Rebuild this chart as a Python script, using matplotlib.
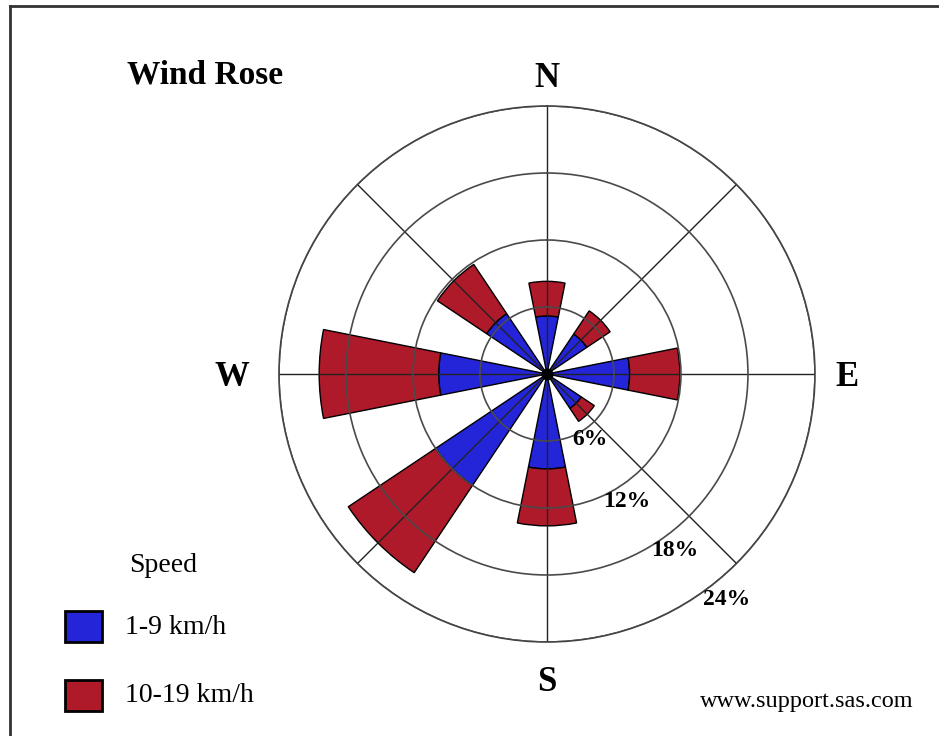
import numpy as np
import matplotlib.pyplot as plt
from matplotlib.patches import Rectangle

plt.rcParams['font.family'] = ['Liberation Serif', 'DejaVu Serif']

# wind directions (compass degrees) and percentage of time per speed class
directions = ["N", "NE", "E", "SE", "S", "SW", "W", "NW"]
angles_deg = [0, 45, 90, 135, 180, 225, 270, 315]
slow_pct = [5.2, 4.3, 7.4, 3.7, 8.5, 12.0, 9.7, 6.5]      # 1-9 km/h
fast_pct = [3.1, 2.5, 4.5, 1.4, 5.1, 9.4, 10.7, 5.3]      # 10-19 km/h
ring_levels = [6, 12, 18, 24]
ring_labels = ["6%", "12%", "18%", "24%"]
speed_labels = ["1-9 km/h", "10-19 km/h"]

blue = "#2424d8"
red = "#ae1a2a"

fig = plt.figure(figsize=(9.39, 7.36), dpi=100)
ax = fig.add_axes([0.2971, 0.1277, 0.5708, 0.7283], projection="polar")
ax.set_theta_zero_location("N")
ax.set_theta_direction(-1)

theta = np.radians(angles_deg)
width = np.radians(22.5)
ax.bar(theta, slow_pct, width=width, bottom=0, color=blue,
       edgecolor="black", linewidth=1.0, zorder=1)
ax.bar(theta, fast_pct, width=width, bottom=slow_pct, color=red,
       edgecolor="black", linewidth=1.0, zorder=1)
ax.scatter([0], [0], s=60, color="black", zorder=3)

ax.set_rlim(0, 24)
ax.set_xticks(theta)
ax.set_yticks(ring_levels)
ax.set_xticklabels([])
ax.set_yticklabels([])
ax.tick_params(length=0)
ax.xaxis.grid(True, color="#222222", linewidth=1.0)
ax.yaxis.grid(True, color="#4a4a4a", linewidth=1.2)
ax.spines["polar"].set_color("#404040")
ax.spines["polar"].set_linewidth(1.2)
ax.set_axisbelow(False)

# ring labels along the SE spoke
label_pos = [(147, 7.0), (148, 13.5), (144, 19.5), (141.5, 25.8)]
for lab, (a, r) in zip(ring_labels, label_pos):
    ax.text(np.radians(a), r, lab, ha="center", va="center", fontsize=17,
            fontweight="bold", clip_on=False)

# compass letters
compass = [("N", 0, 26.8), ("E", 90, 26.9), ("S", 180, 27.3), ("W", 270, 28.2)]
for lab, a, r in compass:
    ax.text(np.radians(a), r, lab, ha="center", va="center_baseline",
            fontsize=25, fontweight="bold", clip_on=False)

W, H = 939, 736
fig.text(127 / W, 1 - 71 / H, "Wind Rose", ha="left", va="center_baseline",
         fontsize=24, fontweight="bold")
fig.text(163 / W, 1 - 566 / H, "Speed", ha="center", va="center", fontsize=20)

legend_rows = [(blue, 626), (red, 695)]
for (col, yc), lab in zip(legend_rows, speed_labels):
    fig.add_artist(Rectangle((65 / W, 1 - (yc + 16) / H), 37 / W, 31 / H,
                             facecolor=col, edgecolor="black", linewidth=2,
                             transform=fig.transFigure))
    fig.text(125 / W, 1 - (yc + 1) / H, lab, ha="left", va="center",
             fontsize=20)

fig.text(914 / W, 1 - 701 / H, "www.support.sas.com", ha="right",
         va="center", fontsize=17.5)

# frame (top and left edges visible)
fig.add_artist(plt.Line2D([10 / W, 10 / W], [0, 1 - 6 / H], color="#333333",
                          linewidth=2, transform=fig.transFigure))
fig.add_artist(plt.Line2D([10 / W, 1], [1 - 6 / H, 1 - 6 / H], color="#333333",
                          linewidth=2, transform=fig.transFigure))

fig.savefig("out.png", dpi=100)
